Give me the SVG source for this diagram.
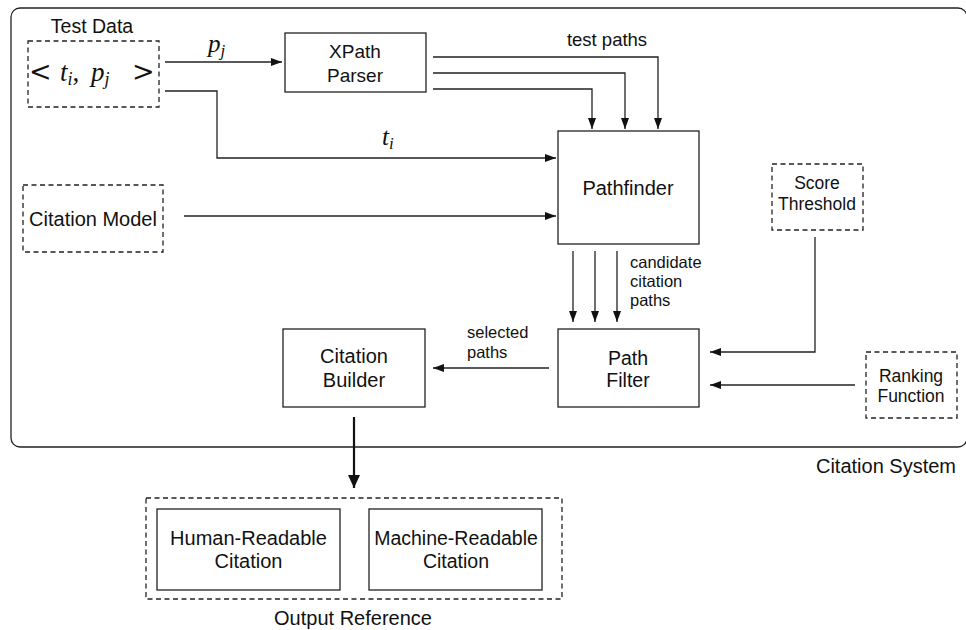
<svg xmlns="http://www.w3.org/2000/svg" width="966" height="630" viewBox="0 0 966 630">
<defs>
<style>
.box{fill:#fff;stroke:#222;stroke-width:1.3}
.dbox{fill:#fff;stroke:#222;stroke-width:1.3;stroke-dasharray:5,3.5}
.ln{fill:none;stroke:#222;stroke-width:1.3}
.t{font-family:"Liberation Sans",Arial,sans-serif;fill:#111;text-anchor:middle}
.s{font-family:"Liberation Sans",Arial,sans-serif;fill:#111;font-size:16.5px}
.m{font-family:"Liberation Serif","DejaVu Serif",serif;fill:#111}
</style>
<marker id="ah" markerWidth="11" markerHeight="8" refX="11" refY="4" orient="auto" markerUnits="userSpaceOnUse">
<path d="M0,0 L11,4 L0,8 Z" fill="#111"/>
</marker>
<marker id="ahb" markerWidth="13" markerHeight="12" refX="13" refY="6" orient="auto" markerUnits="userSpaceOnUse">
<path d="M0,0 L13,6 L0,12 Z" fill="#111"/>
</marker>
</defs>
<g id="citation-system">
<rect x="11" y="8" width="956" height="439" rx="9" fill="none" stroke="#222" stroke-width="1.3"/>
<text class="t" x="886" y="473" font-size="20">Citation System</text>
</g>
<g id="test-data">
<text class="t" x="92" y="33" font-size="19.5">Test Data</text>
<rect class="dbox" x="28" y="41" width="131" height="66"/>
<text class="m" y="81" font-size="27"><tspan x="29" font-family="DejaVu Serif">&lt;</tspan><tspan x="60" font-style="italic">t</tspan><tspan font-style="italic" font-size="18" dy="4">i</tspan><tspan dy="-4">,</tspan><tspan x="91" font-style="italic">p</tspan><tspan font-style="italic" font-size="18" dy="4">j</tspan><tspan x="132" dy="-4" font-family="DejaVu Serif">&gt;</tspan></text>
</g>
<g id="xpath-parser">
<rect class="box" x="285" y="33" width="141" height="59"/>
<text class="t" x="355" y="58" font-size="19">XPath</text>
<text class="t" x="355" y="82" font-size="19">Parser</text>
</g>
<g id="citation-model">
<rect class="dbox" x="23" y="185" width="140" height="67"/>
<text class="t" x="93" y="226" font-size="20">Citation Model</text>
</g>
<g id="pathfinder">
<rect class="box" x="558" y="131" width="141" height="113"/>
<text class="t" x="628" y="195" font-size="20">Pathfinder</text>
</g>
<g id="score-threshold">
<rect class="dbox" x="772" y="164" width="91" height="66"/>
<text class="t" x="817" y="189" font-size="17.5">Score</text>
<text class="t" x="817" y="210" font-size="17.5">Threshold</text>
</g>
<g id="path-filter">
<rect class="box" x="558" y="329" width="141" height="78"/>
<text class="t" x="628" y="365" font-size="19.5">Path</text>
<text class="t" x="628" y="387" font-size="19.5">Filter</text>
</g>
<g id="ranking-function">
<rect class="dbox" x="866" y="352" width="91" height="66"/>
<text class="t" x="911" y="382" font-size="17.5">Ranking</text>
<text class="t" x="911" y="402" font-size="17.5">Function</text>
</g>
<g id="citation-builder">
<rect class="box" x="283" y="329" width="142" height="78"/>
<text class="t" x="354" y="363" font-size="20">Citation</text>
<text class="t" x="354" y="387" font-size="20">Builder</text>
</g>
<g id="output-reference">
<rect class="dbox" x="146" y="498" width="416" height="101"/>
<text class="t" x="353" y="625" font-size="20">Output Reference</text>
</g>
<g id="human-readable">
<rect class="box" x="157" y="509" width="183" height="81"/>
<text class="t" x="248.5" y="545" font-size="20">Human-Readable</text>
<text class="t" x="248.5" y="568" font-size="20">Citation</text>
</g>
<g id="machine-readable">
<rect class="box" x="369" y="509" width="173" height="81"/>
<text class="t" x="456" y="545" font-size="19.5">Machine-Readable</text>
<text class="t" x="456" y="568" font-size="19.5">Citation</text>
</g>
<g id="connectors">
<path class="ln" d="M165,62 H282" marker-end="url(#ah)"/>
<text class="m" x="208" y="52" font-size="25" font-style="italic">p<tspan font-size="17" dy="4">j</tspan></text>
<path class="ln" d="M165,91 H217 V158 H556" marker-end="url(#ah)"/>
<text class="m" x="382" y="145" font-size="25" font-style="italic">t<tspan font-size="17" dy="4">i</tspan></text>
<path class="ln" d="M184,216 H556" marker-end="url(#ah)"/>
<path class="ln" d="M433,57 H658 V129" marker-end="url(#ah)"/>
<path class="ln" d="M433,73 H625 V129" marker-end="url(#ah)"/>
<path class="ln" d="M433,89 H592 V129" marker-end="url(#ah)"/>
<text class="s" x="607" y="46" text-anchor="middle" font-size="18.5" style="font-size:18.5px">test paths</text>
<path class="ln" d="M573,251 V322" marker-end="url(#ah)"/>
<path class="ln" d="M595,251 V322" marker-end="url(#ah)"/>
<path class="ln" d="M617,251 V322" marker-end="url(#ah)"/>
<text class="s" x="630" y="268">candidate</text>
<text class="s" x="630" y="287">citation</text>
<text class="s" x="630" y="306">paths</text>
<path class="ln" d="M815,237 V352 H710" marker-end="url(#ah)"/>
<path class="ln" d="M855,385 H710" marker-end="url(#ah)"/>
<path class="ln" d="M549,368 H433" marker-end="url(#ah)"/>
<text class="s" x="467" y="338">selected</text>
<text class="s" x="467" y="358">paths</text>
<path d="M354,417 V488" fill="none" stroke="#111" stroke-width="2.2" marker-end="url(#ahb)"/>
</g>
</svg>
